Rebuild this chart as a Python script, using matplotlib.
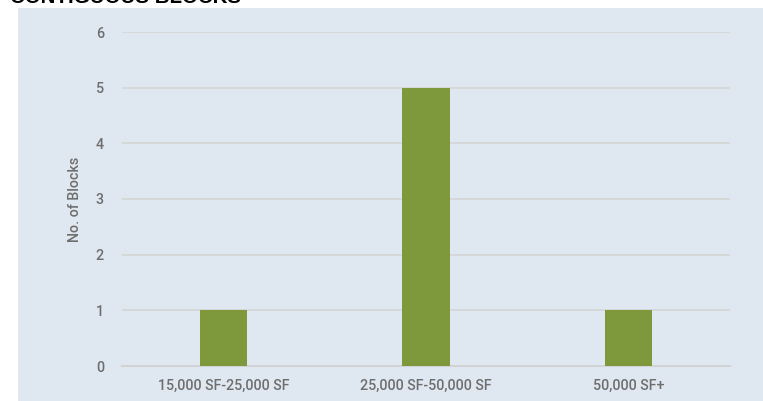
import matplotlib
matplotlib.use("Agg")
import matplotlib.pyplot as plt
from matplotlib.patches import Rectangle

categories = ["15,000 SF-25,000 SF", "25,000 SF-50,000 SF", "50,000 SF+"]
blocks = [1, 5, 1]
yticks = [0, 1, 2, 3, 4, 5, 6]

plt.rcParams['font.family'] = ['Roboto', 'DejaVu Sans']

W, H = 763, 401
fig = plt.figure(figsize=(W / 100, H / 100), dpi=100)
fig.patch.set_facecolor('white')
bg = Rectangle((18 / W, 0), 1 - 18 / W, 1 - 8 / H, transform=fig.transFigure,
               facecolor='#dfe7f1', edgecolor='none', zorder=-10)
fig.patches.append(bg)

ax = fig.add_axes([122 / W, 1 - 366 / H, (730 - 122) / W, (366 - 32) / H])
ax.set_zorder(5)
ax.set_facecolor('none')
x = list(range(len(categories)))
ax.bar(x, blocks, width=0.232, color='#7e993b', zorder=3)
ax.set_xlim(-0.5, len(categories) - 0.5)
ax.set_ylim(0, 6)
ax.set_yticks(yticks)
ax.set_xticks(x)
ax.set_xticklabels(categories, fontweight='medium')
for t in ax.get_yticklabels():
    t.set_fontweight('medium')
ax.yaxis.grid(True, color='#d6d6d6', linewidth=1.3, zorder=1)
ax.set_axisbelow(True)
for s in ['top', 'right', 'left']:
    ax.spines[s].set_visible(False)
ax.spines['bottom'].set_color('#d3d3d3')
ax.spines['bottom'].set_linewidth(1.5)
ax.tick_params(axis='both', length=0, colors='#6e6e6e', labelsize=10.3)
ax.tick_params(axis='y', pad=13)
ax.tick_params(axis='x', pad=9)
ax.set_ylabel("No. of Blocks", color='#6e6e6e', fontsize=10.3, fontweight='medium', labelpad=10)

fig.text(10 / W, 1 - 3 / H, "CONTIGUOUS BLOCKS", fontsize=14.8, fontweight='bold',
         color='black', va='baseline', ha='left', family=['Liberation Sans', 'DejaVu Sans'])

fig.savefig("out.png", dpi=100)
